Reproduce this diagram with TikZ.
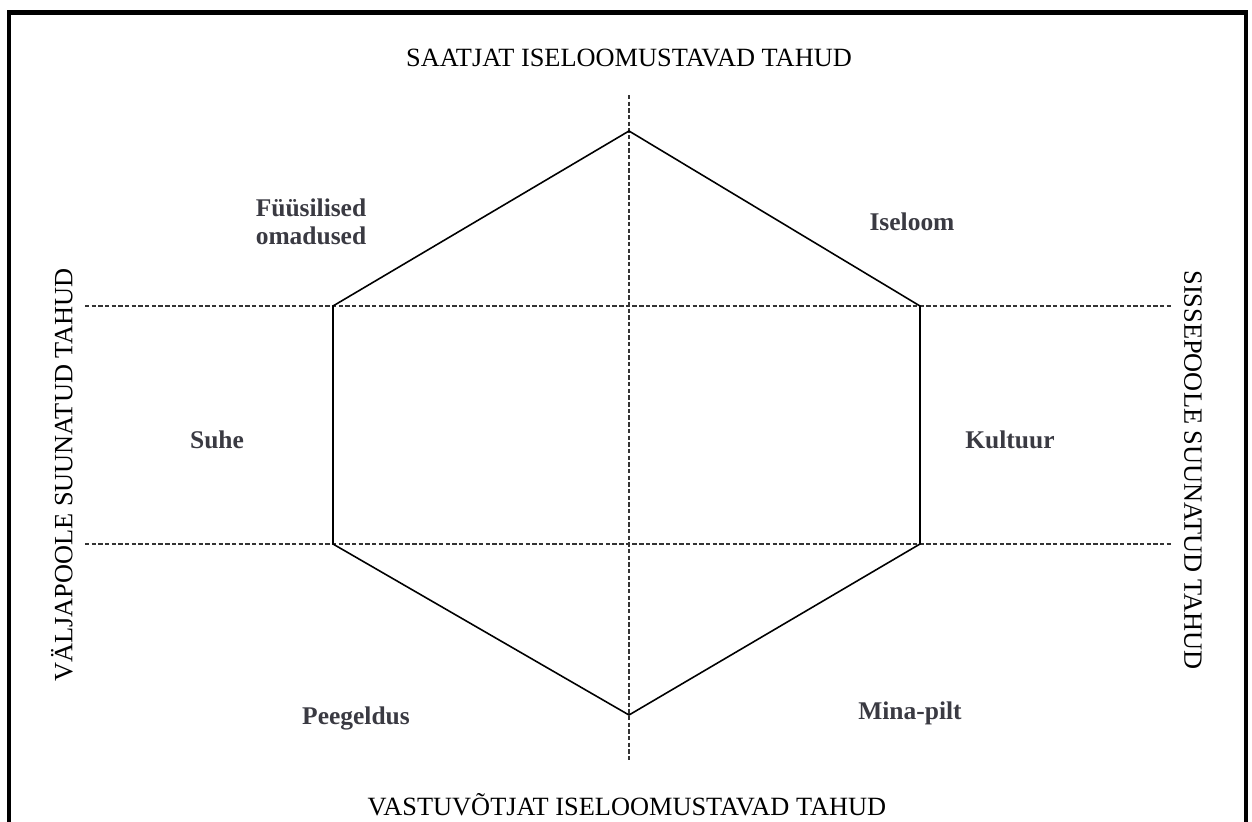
\documentclass[tikz,border=0pt]{standalone}
\usepackage{fontspec}
\setmainfont{Liberation Serif}
\definecolor{facetgray}{RGB}{58,58,66}
\tikzset{
  edge/.style={line width=0.9pt,line join=miter},
  axis/.style={line width=1pt,dash pattern=on 2.5pt off 1.3pt,black!80},
  facet/.style={font=\fontsize{14.5}{16}\selectfont\bfseries,text=facetgray,align=left,inner sep=0pt},
  side/.style={font=\fontsize{15}{17}\selectfont,inner sep=0pt}
}

\begin{document}
\begin{tikzpicture}[x=0.02cm,y=-0.02cm]
  \useasboundingbox (0,0) rectangle (1252,822);

  % raam (alumine serv jääb pildist välja)
  \coordinate (fBL) at (9,822);
  \coordinate (fTL) at (9,12.5);
  \coordinate (fTR) at (1246,12.5);
  \coordinate (fBR) at (1246,822);
  \draw[line width=2.6pt] (fBL) -- (fTL) -- (fTR) -- (fBR);

  % kuusnurga tipud
  \coordinate (top) at (629,131);
  \coordinate (ul)  at (333,306);
  \coordinate (ur)  at (920,306);
  \coordinate (ll)  at (333,544);
  \coordinate (lr)  at (920,544);
  \coordinate (bot) at (629,715);

  % teljed
  \coordinate (vTop) at (629,95);
  \coordinate (vBot) at (629,762);
  \coordinate (hL1) at (85,306);
  \coordinate (hR1) at (1172,306);
  \coordinate (hL2) at (85,544);
  \coordinate (hR2) at (1172,544);
  \draw[axis] (vTop) -- (vBot);
  \draw[axis] (hL1) -- (hR1);
  \draw[axis] (hL2) -- (hR2);

  \draw[edge] (top) -- (ur) -- (lr) -- (bot) -- (ll) -- (ul) -- cycle;

  % servade pealkirjad
  \node[side] (saatja) at (629,58) {SAATJAT ISELOOMUSTAVAD TAHUD};
  \node[side] (vastuv) at (627,805) {VASTUVÕTJAT ISELOOMUSTAVAD TAHUD};
  \node[side,rotate=90] (valja) at (62,475) {VÄLJAPOOLE SUUNATUD TAHUD};
  \node[side,rotate=-90] (sisse) at (1193,470) {SISSEPOOLE SUUNATUD TAHUD};

  % tahud
  \node[facet] (fyys) at (311,222) {Füüsilised\\omadused};
  \node[facet] (iseloom) at (912,222) {Iseloom};
  \node[facet] (suhe) at (217,440) {Suhe};
  \node[facet] (kultuur) at (1010,440) {Kultuur};
  \node[facet] (peegeldus) at (356,718) {Peegeldus};
  \node[facet] (minapilt) at (910,713) {Mina-pilt};
\end{tikzpicture}
\end{document}
